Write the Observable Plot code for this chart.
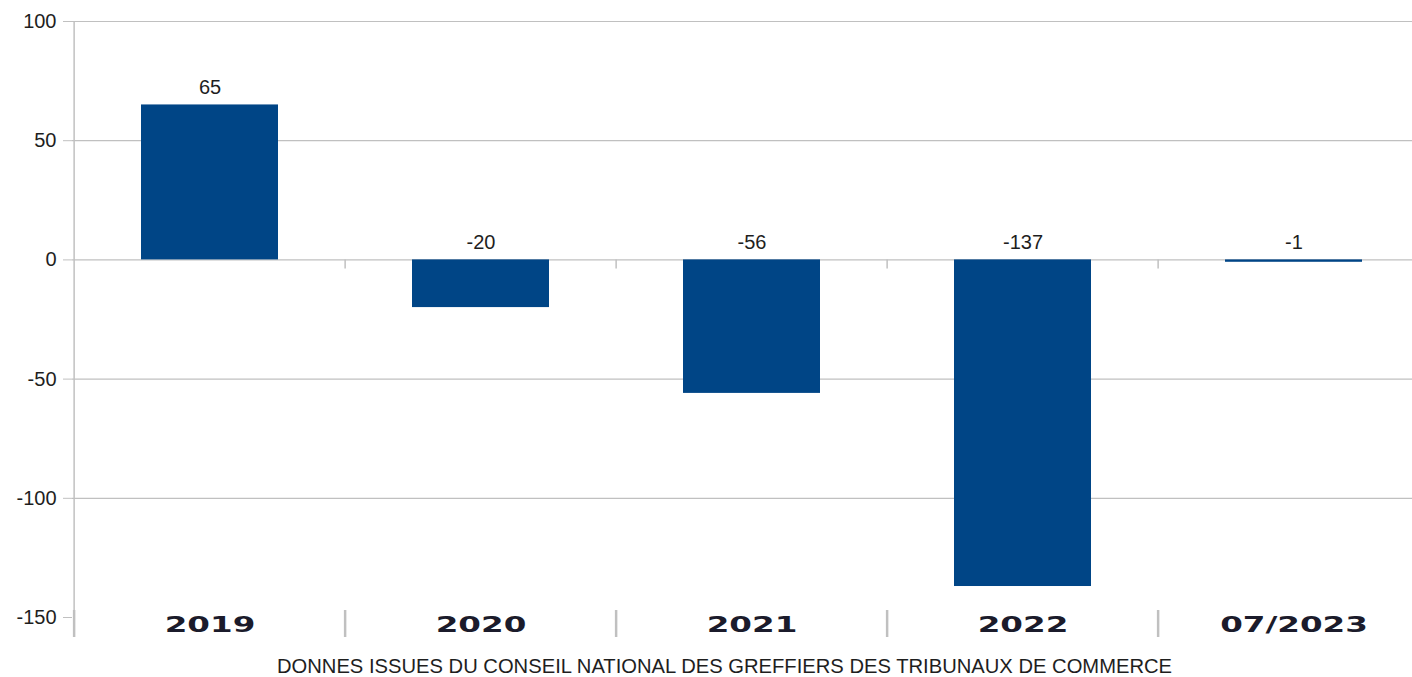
<!DOCTYPE html>
<html>
<head>
<meta charset="utf-8">
<script src="https://cdn.jsdelivr.net/npm/d3@7"></script>
<script src="https://cdn.jsdelivr.net/npm/@observablehq/plot@0.6"></script>
<style>
  html, body { margin: 0; padding: 0; background: #ffffff; }
  #chart { width: 1412px; height: 677px; overflow: hidden; }
</style>
</head>
<body>
<div id="chart"></div>
<script>
const categories = ["2019", "2020", "2021", "2022", "07/2023"];
const values = [65, -20, -56, -137, -1];
const yTicks = [-150, -100, -50, 0, 50, 100];
const caption = "DONNES ISSUES DU CONSEIL NATIONAL DES GREFFIERS DES TRIBUNAUX DE COMMERCE";

const data = categories.map((c, i) => ({cat: c, value: values[i]}));

const gridColor = "#c0c0c0";
const textColor = "#1e1e1e";
const barColor = "#004586";
const xRange = [72, 1430.75];
const step = (xRange[1] - xRange[0]) / categories.length;

const chart = Plot.plot({
  width: 1412,
  height: 677,
  marginLeft: 72,
  marginRight: 0,
  marginTop: 21,
  marginBottom: 60,
  x: {domain: categories, range: xRange, paddingInner: 0.496, paddingOuter: 0.248, axis: null, label: null},
  y: {domain: [-150, 100], axis: null, label: null},
  style: {fontFamily: "'Liberation Sans', Arial, sans-serif", fontSize: "20px", background: "#ffffff", color: textColor},
  marks: [
    Plot.ruleY(yTicks.filter(t => t > -150), {stroke: gridColor, strokeWidth: 1.2}),
    Plot.ruleX([categories[0]], {x: d => d, dx: -step / 2, stroke: gridColor, strokeWidth: 1.5}),
    Plot.ruleX(categories.slice(1), {x: d => d, y1: 0, y2: 0, insetBottom: -9, dx: -step / 2, stroke: gridColor, strokeWidth: 1.5}),
    Plot.ruleX(categories, {x: d => d, y1: -150, y2: -150, insetTop: -7, insetBottom: -20, dx: -step / 2, stroke: gridColor, strokeWidth: 2.5}),
    Plot.axisY({ticks: yTicks, tickSize: 9, tickPadding: 7, stroke: gridColor, fill: textColor, fontSize: 20, label: null, tickFormat: d => String(d)}),
    Plot.barY(data, {x: "cat", y: "value", fill: barColor}),
    Plot.text(data, {x: "cat", y: d => Math.max(0, d.value), text: d => String(d.value), dy: -11, lineAnchor: "bottom", fontSize: 20, fill: textColor}),
    Plot.text(categories, {x: d => d, frameAnchor: "bottom", dy: 14, lineAnchor: "bottom", fontSize: 22, fontWeight: "bold", fontFamily: "'DejaVu Sans', sans-serif", fill: "#1b1b2b"}),
    Plot.text([caption], {frameAnchor: "bottom", dx: -18, dy: 55, lineAnchor: "bottom", fontSize: 20.2, fill: textColor})
  ]
});

document.getElementById("chart").appendChild(chart);

// widen the category labels horizontally, like the reference
const catSet = new Set(categories);
d3.select(chart).selectAll("text").each(function() {
  if (!catSet.has(this.textContent)) return;
  const el = d3.select(this);
  const t = el.attr("transform") || "";
  const x = el.attr("x") || 0;
  const y = el.attr("y") || 0;
  el.attr("x", null).attr("y", null);
  el.attr("transform", `${t} translate(${x},${y}) scale(1.48,1)`);
});
</script>
</body>
</html>
